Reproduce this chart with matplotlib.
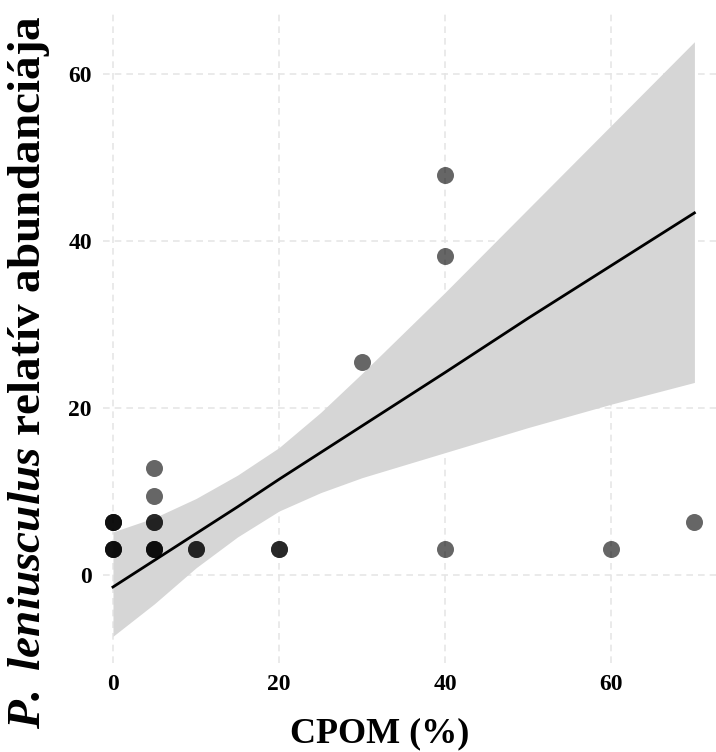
import numpy as np
import matplotlib.pyplot as plt

plt.rcParams['font.family'] = ['Liberation Serif', 'DejaVu Serif']
plt.rcParams['font.weight'] = 'bold'
plt.rcParams['mathtext.fontset'] = 'custom'
plt.rcParams['mathtext.bfit'] = 'Liberation Serif:bold:italic'
plt.rcParams['mathtext.rm'] = 'Liberation Serif:bold'

# observations (repeated entries = overlapping points)
cpom = [0, 0, 0, 0, 0, 0, 5, 5, 5, 5, 5, 5, 5, 10, 10, 20, 20, 30, 40, 40, 40, 60, 70]
abund = [3.2, 3.2, 3.2, 6.4, 6.4, 6.4, 3.2, 3.2, 3.2, 6.4, 6.4, 9.5, 12.8,
         3.2, 3.2, 3.2, 3.2, 25.5, 47.9, 38.3, 3.2, 3.2, 6.4]

# fitted line and confidence band
fit_x = [0, 5, 10, 15, 20, 25, 30, 40, 50, 60, 70]
fit_y = [-1.4, 1.8, 5.0, 8.2, 11.5, 14.7, 17.9, 24.3, 30.8, 37.1, 43.4]
band_lo = [-7.3, -3.4, 0.9, 4.6, 7.7, 9.9, 11.7, 14.7, 17.7, 20.5, 23.1]
band_hi = [5.2, 6.9, 9.2, 12.0, 15.3, 19.5, 24.2, 33.9, 43.9, 53.9, 63.9]

xticks = [0, 20, 40, 60]
yticks = [0, 20, 40, 60]

fig = plt.figure(figsize=(7.16, 7.52), dpi=100)
ax = fig.add_axes([103/716, 1 - 663/752, 613/716, 653/752])

ax.fill_between(fit_x, band_lo, band_hi, color='#d6d6d6', lw=0, zorder=1)
ax.scatter(cpom, abund, s=150, color='black', alpha=0.6, lw=0, zorder=2)
ax.plot(fit_x, fit_y, color='black', lw=2, zorder=3)

ax.set_xlim(-1.2, 72.6)
ax.set_ylim(-10.5, 67.7)
ax.set_xticks(xticks)
ax.set_yticks(yticks)
ax.grid(True, color='#e6e6e6', linestyle=(0, (4, 3)), lw=1.2, zorder=0)
ax.set_axisbelow(True)
for s in ax.spines.values():
    s.set_visible(False)
ax.tick_params(length=0, labelsize=17)
ax.tick_params(axis='x', pad=8)
ax.tick_params(axis='y', pad=8)
for lab in ax.get_xticklabels() + ax.get_yticklabels():
    lab.set_fontweight('bold')

fig.text(380/716, 10/752, 'CPOM (%)', fontsize=26, fontweight='bold',
         ha='center', va='baseline')
fig.text(29/716, 1 - 372/752,
         r'$\mathbfit{P.\,leniusculus}$ relatív abundanciája',
         fontsize=34, fontweight='bold', rotation=90, ha='center', va='center')

fig.savefig('out.png', dpi=100)
